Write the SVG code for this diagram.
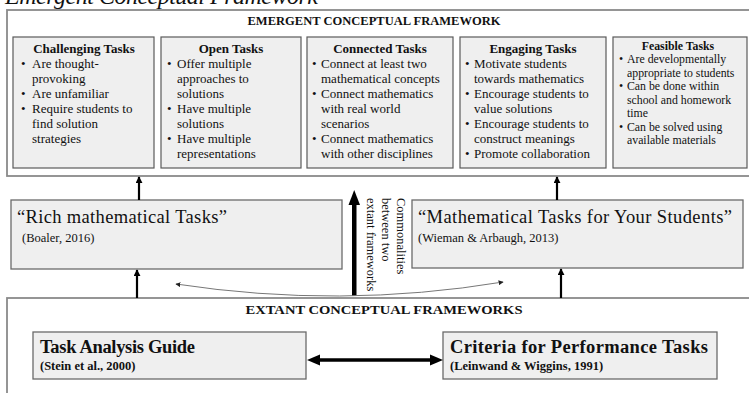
<svg xmlns="http://www.w3.org/2000/svg" width="749" height="393" viewBox="0 0 749 393">
  <style>
    text { font-family: "Liberation Serif", "Times New Roman", serif; fill: #111; }
    .frame { fill: #fff; stroke: #8a8a8a; stroke-width: 1.8; }
    .card { fill: #efefef; stroke: #5a5a5a; stroke-width: 1.2; }
    .src { fill: #efefef; stroke: #6a6a6a; stroke-width: 1.3; }
    .hdr { font-weight: bold; font-size: 13px; text-anchor: middle; }
    .ttl { font-weight: bold; font-size: 13px; text-anchor: middle; }
    .body { font-size: 13px; }
    .small { font-size: 11.8px; }
    .smallttl { font-weight: bold; font-size: 11.8px; text-anchor: middle; }
    .big { font-size: 18.5px; }
    .cite { font-size: 12.5px; }
    .bigb { font-weight: bold; font-size: 18.5px; }
    .citeb { font-weight: bold; font-size: 12.5px; }
    .vert { font-size: 12.5px; }
    .stem { stroke: #000; stroke-width: 2.2; fill: none; }
    .curve { stroke: #777; stroke-width: 1; fill: none; }
  </style>
  <defs>
    <marker id="head" viewBox="0 0 8 8" refX="7" refY="4" markerWidth="7" markerHeight="7" markerUnits="userSpaceOnUse" orient="auto">
      <path d="M0,0 L8,4 L0,8 z" fill="#000"/>
    </marker>
    <marker id="tiny" viewBox="0 0 8 8" refX="7" refY="4" markerWidth="5" markerHeight="5" markerUnits="userSpaceOnUse" orient="auto-start-reverse">
      <path d="M0,0 L8,4 L0,8 z" fill="#222"/>
    </marker>
  </defs>

  <!-- caption line at the very top -->
  <text x="5" y="4" font-size="24" font-style="italic" textLength="313" lengthAdjust="spacing">Emergent Conceptual Framework</text>

  <!-- upper frame: emergent framework -->
  <g id="emergent-frame">
    <rect class="frame" x="7" y="10" width="750" height="166"/>
    <text class="hdr" x="374" y="25" textLength="253" lengthAdjust="spacingAndGlyphs">EMERGENT CONCEPTUAL FRAMEWORK</text>
  </g>

  <g id="challenging-tasks">
    <rect class="card" x="13" y="37" width="141" height="131"/>
    <text class="ttl" x="84" y="53">Challenging Tasks</text>
    <g class="body">
      <text x="21" y="68">•</text><text x="32" y="68">Are thought-</text>
      <text x="32" y="83">provoking</text>
      <text x="21" y="98">•</text><text x="32" y="98">Are unfamiliar</text>
      <text x="21" y="113">•</text><text x="32" y="113">Require students to</text>
      <text x="32" y="128">find solution</text>
      <text x="32" y="143">strategies</text>
    </g>
  </g>

  <g id="open-tasks">
    <rect class="card" x="161" y="37" width="140" height="131"/>
    <text class="ttl" x="231" y="53">Open Tasks</text>
    <g class="body">
      <text x="167" y="68">•</text><text x="177" y="68">Offer multiple</text>
      <text x="177" y="83">approaches to</text>
      <text x="177" y="98">solutions</text>
      <text x="167" y="113">•</text><text x="177" y="113">Have multiple</text>
      <text x="177" y="128">solutions</text>
      <text x="167" y="143">•</text><text x="177" y="143">Have multiple</text>
      <text x="177" y="158">representations</text>
    </g>
  </g>

  <g id="connected-tasks">
    <rect class="card" x="307" y="37" width="146" height="131"/>
    <text class="ttl" x="380" y="53">Connected Tasks</text>
    <g class="body">
      <text x="312" y="68">•</text><text x="321" y="68">Connect at least two</text>
      <text x="321" y="83">mathematical concepts</text>
      <text x="312" y="98">•</text><text x="321" y="98">Connect mathematics</text>
      <text x="321" y="113">with real world</text>
      <text x="321" y="128">scenarios</text>
      <text x="312" y="143">•</text><text x="321" y="143">Connect mathematics</text>
      <text x="321" y="158">with other disciplines</text>
    </g>
  </g>

  <g id="engaging-tasks">
    <rect class="card" x="460" y="37" width="146" height="131"/>
    <text class="ttl" x="533" y="53">Engaging Tasks</text>
    <g class="body">
      <text x="465" y="68">•</text><text x="474" y="68">Motivate students</text>
      <text x="474" y="83">towards mathematics</text>
      <text x="465" y="98">•</text><text x="474" y="98">Encourage students to</text>
      <text x="474" y="113">value solutions</text>
      <text x="465" y="128">•</text><text x="474" y="128">Encourage students to</text>
      <text x="474" y="143">construct meanings</text>
      <text x="465" y="158">•</text><text x="474" y="158">Promote collaboration</text>
    </g>
  </g>

  <g id="feasible-tasks">
    <rect class="card" x="613" y="37" width="134" height="131"/>
    <text class="smallttl" x="678" y="50">Feasible  Tasks</text>
    <g class="small">
      <text x="619" y="63">•</text><text x="627" y="63">Are developmentally</text>
      <text x="627" y="76.5">appropriate to students</text>
      <text x="619" y="90">•</text><text x="627" y="90">Can be done within</text>
      <text x="627" y="103.5">school and homework</text>
      <text x="627" y="117">time</text>
      <text x="619" y="130.5">•</text><text x="627" y="130.5">Can be solved using</text>
      <text x="627" y="144">available materials</text>
    </g>
  </g>

  <!-- middle row: two published frameworks -->
  <g id="rich-tasks">
    <rect class="src" x="11" y="200" width="331" height="69"/>
    <text class="big" x="17" y="223" textLength="210" lengthAdjust="spacing">“Rich mathematical Tasks”</text>
    <text class="cite" x="22" y="242">(Boaler, 2016)</text>
  </g>

  <g id="tasks-for-students">
    <rect class="src" x="412" y="200" width="331" height="68"/>
    <text class="big" x="418" y="223" textLength="314" lengthAdjust="spacing">“Mathematical Tasks for Your Students”</text>
    <text class="cite" x="418" y="242">(Wieman &amp; Arbaugh, 2013)</text>
  </g>

  <!-- lower frame: extant frameworks -->
  <g id="extant-frame">
    <rect class="frame" x="7" y="298" width="750" height="110"/>
    <text class="hdr" x="384" y="314" textLength="277" lengthAdjust="spacingAndGlyphs">EXTANT CONCEPTUAL FRAMEWORKS</text>
  </g>

  <g id="task-analysis-guide">
    <rect class="src" x="33" y="332" width="273" height="47"/>
    <text class="bigb" x="40" y="353" textLength="155" lengthAdjust="spacing">Task Analysis Guide</text>
    <text class="citeb" x="40" y="370">(Stein et al., 2000)</text>
  </g>

  <g id="performance-criteria">
    <rect class="src" x="443" y="332" width="274" height="47"/>
    <text class="bigb" x="450" y="353" textLength="258" lengthAdjust="spacing">Criteria for Performance Tasks</text>
    <text class="citeb" x="450" y="370">(Leinwand &amp; Wiggins, 1991)</text>
  </g>

  <!-- connectors -->
  <g id="connectors">
    <line class="stem" x1="139" y1="200" x2="139" y2="177" marker-end="url(#head)"/>
    <line class="stem" x1="557" y1="200" x2="557" y2="177" marker-end="url(#head)"/>
    <line class="stem" x1="137" y1="298" x2="137" y2="270" marker-end="url(#head)"/>
    <line class="stem" x1="561" y1="298" x2="561" y2="269" marker-end="url(#head)"/>

    <!-- heavy upward arrow with its label -->
    <rect x="352" y="203" width="4.5" height="93" fill="#000"/>
    <polygon points="348.5,205 354.2,190 360,205" fill="#000"/>
    <g class="vert">
      <text transform="translate(396.5,198) rotate(90)">Commonalities</text>
      <text transform="translate(381.5,198) rotate(90)">between  two</text>
      <text transform="translate(367,198) rotate(90)">extant frameworks</text>
    </g>

    <!-- thin curved link between the middle boxes -->
    <path class="curve" d="M176,284 Q340,309 503,282" marker-start="url(#tiny)" marker-end="url(#tiny)"/>

    <!-- two-way link between the extant frameworks -->
    <line x1="318" y1="360" x2="431" y2="360" stroke="#000" stroke-width="3.5"/>
    <polygon points="307,360 320,354.5 320,365.5" fill="#000"/>
    <polygon points="443,360 430,354.5 430,365.5" fill="#000"/>
  </g>
</svg>
